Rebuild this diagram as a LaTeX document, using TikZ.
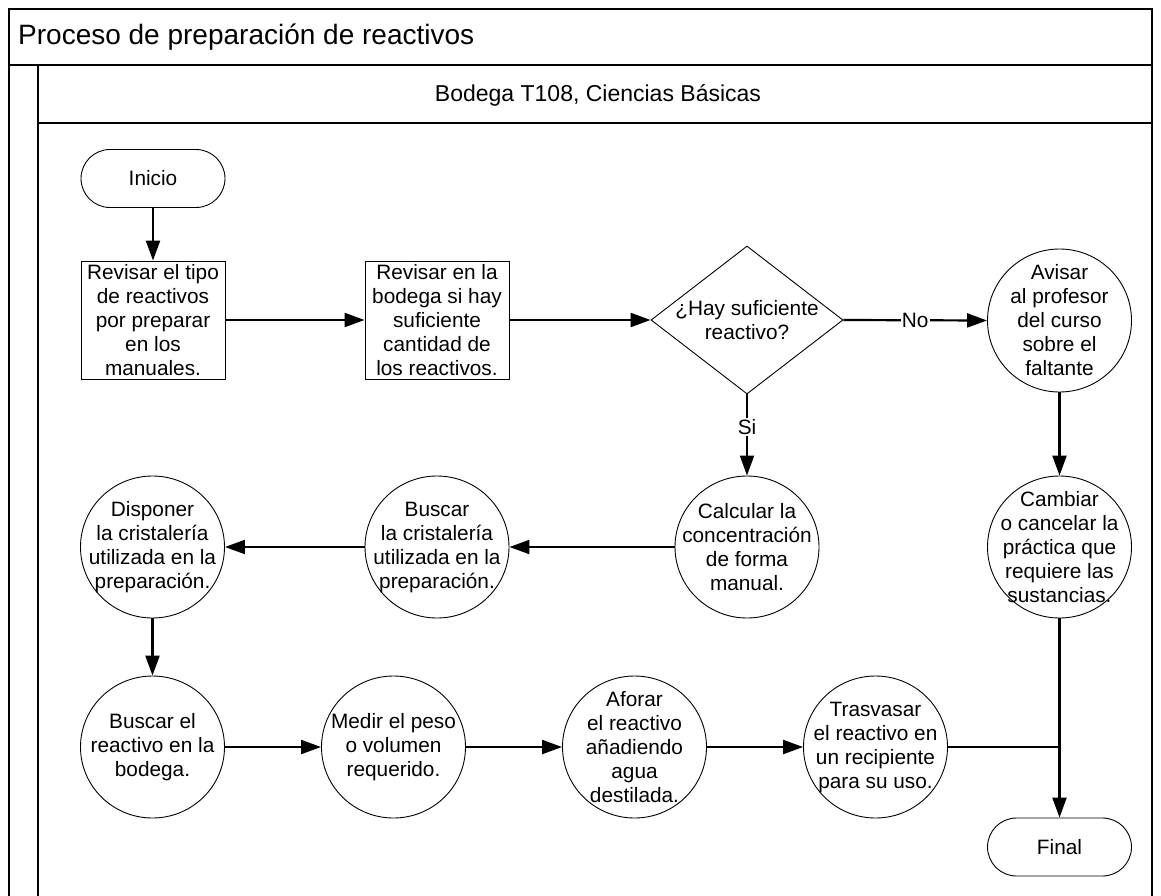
\documentclass[tikz,border=0pt]{standalone}
\usepackage{fontspec}
\setmainfont{Liberation Sans}
\usetikzlibrary{arrows.meta,shapes.geometric}

\newcommand{\bodyfont}{\fontsize{20.8pt}{24pt}\selectfont}
\newcommand{\lanefont}{\fontsize{23pt}{27pt}\selectfont}
\newcommand{\titlefont}{\fontsize{28pt}{32pt}\selectfont}

\tikzset{
  shapeline/.style={draw, line width=0.9pt, fill=white},
  proc/.style={shapeline, ellipse, minimum width=144pt, minimum height=142pt, inner sep=0pt},
  stepbox/.style={shapeline, rectangle, minimum width=144pt, minimum height=118pt, inner sep=0pt},
  term/.style={shapeline, rectangle, rounded corners=29pt, minimum width=144pt, minimum height=58pt, inner sep=0pt},
  decision/.style={shapeline, diamond, minimum width=192pt, minimum height=148pt, inner sep=0pt},
  txt/.style={align=center, font=\bodyfont, inner sep=0pt},
  flow/.style={line width=2.2pt, -{Triangle[length=20pt,width=14pt]}},
  plain/.style={line width=2.2pt},
  frame/.style={line width=1.8pt},
  edgelabel/.style={font=\bodyfont, fill=white, inner sep=1pt}
}

\begin{document}
\begin{tikzpicture}[x=1pt, y=-1pt]
  \useasboundingbox (0,0) rectangle (1161,896);
  \clip (0,0) rectangle (1161,896);
  \fill[white] (0,0) rectangle (1161,896);

  % pool frame, title bar and lane
  \draw[frame] (9,910) -- (9,9) -- (1152,9) -- (1152,910);
  \draw[frame] (9,65) -- (1152,65);
  \draw[frame] (38,65) -- (38,910);
  \draw[frame] (38,123) -- (1152,123);
  \node[anchor=base west, font=\titlefont, inner sep=0pt] (title) at (18,45) {Proceso de preparación de reactivos};
  \node[anchor=base, font=\lanefont, inner sep=0pt] (lane) at (598,102) {Bodega T108, Ciencias Básicas};

  % shapes
  \node[term]     (inicio)    at (153,178.5) {};
  \node[stepbox]  (rev1)      at (153,320) {};
  \node[stepbox]  (rev2)      at (437,320) {};
  \node[decision] (dec)       at (747,320) {};
  \node[proc, minimum height=143pt] (avisar) at (1059.5,320.5) {};
  \node[proc]     (calc)      at (747,547) {};
  \node[proc]     (cambiar)   at (1059.5,547) {};
  \node[proc]     (buscarc)   at (437,547) {};
  \node[proc]     (disponer)  at (152.5,547) {};
  \node[proc]     (buscarr)   at (152.5,747) {};
  \node[proc]     (medir)     at (393.5,747) {};
  \node[proc]     (aforar)    at (634.5,747) {};
  \node[proc]     (trasvasar) at (875.5,747) {};
  \node[term]     (final)     at (1059.5,847) {};

  % texts inside the shapes
  \node[txt] (inicio-t)    at (inicio)    {Inicio};
  \node[txt] (rev1-t)      at (rev1)      {Revisar el tipo\\de reactivos\\por preparar\\en los\\manuales.};
  \node[txt] (rev2-t)      at (rev2)      {Revisar en la\\bodega si hay\\suficiente\\cantidad de\\los reactivos.};
  \node[txt] (dec-t)       at (dec)       {¿Hay suficiente\\reactivo?};
  \node[txt] (avisar-t)    at (avisar)    {Avisar\\al profesor\\del curso\\sobre el\\faltante};
  \node[txt] (calc-t)      at (calc)      {Calcular la\\concentración\\de forma\\manual.};
  \node[txt] (cambiar-t)   at (cambiar)   {Cambiar\\o cancelar la\\práctica que\\requiere las\\sustancias.};
  \node[txt] (buscarc-t)   at (buscarc)   {Buscar\\la cristalería\\utilizada en la\\preparación.};
  \node[txt] (disponer-t)  at (disponer)  {Disponer\\la cristalería\\utilizada en la\\preparación.};
  \node[txt] (buscarr-t)   at (buscarr)   {Buscar el\\reactivo en la\\bodega.};
  \node[txt] (medir-t)     at (medir)     {Medir el peso\\o volumen\\requerido.};
  \node[txt] (aforar-t)    at (aforar)    {Aforar\\el reactivo\\añadiendo\\agua\\destilada.};
  \node[txt] (trasvasar-t) at (trasvasar) {Trasvasar\\el reactivo en\\un recipiente\\para su uso.};
  \node[txt] (final-t)     at (final)     {Final};

  % connectors
  \coordinate (join) at (final.center |- trasvasar.east);
  \draw[flow] (inicio) -- (rev1);
  \draw[flow] (rev1) -- (rev2);
  \draw[flow] (rev2) -- (dec);
  \draw[flow] (dec.east) -- node[edgelabel] (no) {No} (avisar.west);
  \draw[flow] (dec.south) -- node[edgelabel, pos=0.4] (si) {Si} (calc.north);
  \draw[flow] (avisar) -- (cambiar);
  \draw[flow] (calc) -- (buscarc);
  \draw[flow] (buscarc) -- (disponer);
  \draw[flow] (disponer) -- (buscarr);
  \draw[flow] (buscarr) -- (medir);
  \draw[flow] (medir) -- (aforar);
  \draw[flow] (aforar) -- (trasvasar);
  \draw[plain] (trasvasar.east) -- (join);
  \draw[flow] (cambiar.south) -- (final.north);
\end{tikzpicture}
\end{document}
